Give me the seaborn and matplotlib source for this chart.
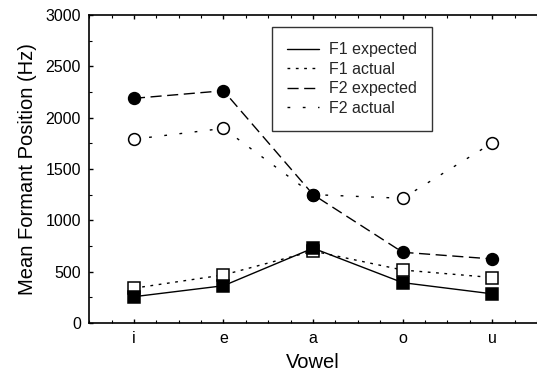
import matplotlib
matplotlib.use("Agg")
import matplotlib.pyplot as plt
import seaborn as sns
import pandas as pd
from matplotlib.ticker import MultipleLocator
from matplotlib.lines import Line2D

vowels = ["i", "e", "a", "o", "u"]
f1_expected = [255, 362, 728, 392, 283]
f1_actual = [338, 467, 700, 515, 442]
f2_expected = [2188, 2262, 1250, 688, 623]
f2_actual = [1790, 1895, 1250, 1214, 1753]

series_names = ["F1 expected", "F1 actual", "F2 expected", "F2 actual"]
series_vals = [f1_expected, f1_actual, f2_expected, f2_actual]

sns.set_theme(style="ticks")
plt.rcParams['font.family'] = ['Liberation Sans', 'DejaVu Sans']

fig = plt.figure(figsize=(5.37, 3.75), dpi=100)
ax = fig.add_axes([0.166, 0.139, 0.834, 0.821])

styles = {
    "F1 expected": dict(ls="-", marker="s", mfc="black", ms=9),
    "F1 actual": dict(ls=(0, (2, 4)), marker="s", mfc="white", ms=9),
    "F2 expected": dict(ls=(0, (8, 4)), marker="o", mfc="black", ms=8.5),
    "F2 actual": dict(ls=(0, (2, 9)), marker="o", mfc="white", ms=8.5),
}

# draw order: actual below expected
draw_order = ["F2 actual", "F2 expected", "F1 actual", "F1 expected"]
xpos = list(range(len(vowels)))
lookup = dict(zip(series_names, series_vals))
for name in draw_order:
    vals = lookup[name]
    st = styles[name]
    df = pd.DataFrame({"x": xpos, "y": vals})
    sns.lineplot(data=df, x="x", y="y", ax=ax, color="black", lw=1.0,
                 linestyle=st["ls"], marker=st["marker"], markersize=st["ms"],
                 markerfacecolor=st["mfc"], markeredgecolor="black",
                 markeredgewidth=1.1, legend=False)

ax.set_xlim(-0.5, 4.5)
ax.set_ylim(0, 3000)
ax.set_xticks(xpos)
ax.set_xticklabels(vowels)
ax.xaxis.set_minor_locator(MultipleLocator(0.25))
ax.yaxis.set_major_locator(MultipleLocator(500))
ax.yaxis.set_minor_locator(MultipleLocator(250))
ax.tick_params(which="both", direction="in", top=True, bottom=True, left=True,
               right=False, color="black")
ax.tick_params(which="major", length=3, width=1, labelsize=11.5, pad=6, colors="black")
ax.tick_params(which="minor", length=2, width=0.8)
for s in ["left", "bottom", "top"]:
    ax.spines[s].set_color("black")
    ax.spines[s].set_linewidth(1.2)
ax.spines["right"].set_visible(False)

ax.set_xlabel("Vowel", fontsize=14.5, color="black", labelpad=5)
ax.set_ylabel("Mean Formant Position (Hz)", fontsize=14.5, color="black", labelpad=6)

handles = [Line2D([], [], color="black", lw=1.0, linestyle=styles[n]["ls"]) for n in series_names]
leg = ax.legend(handles, series_names, loc="upper left", bbox_to_anchor=(0.408, 0.96),
                frameon=True, fancybox=False, edgecolor="black", fontsize=11.5,
                handlelength=2.0, handletextpad=0.6, borderpad=0.95, labelspacing=0.28,
                borderaxespad=0)
leg.get_frame().set_linewidth(1.0)

fig.savefig("out.png", dpi=100)
